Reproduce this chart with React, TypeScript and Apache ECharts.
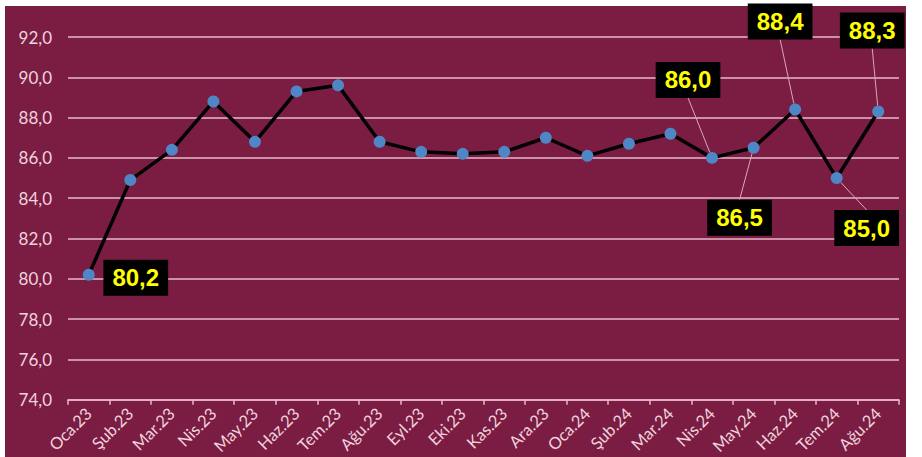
import React, { useEffect, useRef } from "react";
import * as echarts from "echarts";

const categories = [
  "Oca.23", "Şub.23", "Mar.23", "Nis.23", "May.23", "Haz.23", "Tem.23", "Ağu.23",
  "Eyl.23", "Eki.23", "Kas.23", "Ara.23", "Oca.24", "Şub.24", "Mar.24", "Nis.24",
  "May.24", "Haz.24", "Tem.24", "Ağu.24",
];
const values = [
  80.2, 84.9, 86.4, 88.8, 86.8, 89.3, 89.6, 86.8, 86.3, 86.2, 86.3, 87.0, 86.1,
  86.7, 87.2, 86.0, 86.5, 88.4, 85.0, 88.3,
];
// indices of points that carry a value callout, and the callout offsets
const labelledIdx = [0, 15, 16, 17, 18, 19];
const labelOffsets: Record<number, [number, number]> = {
  0: [47, 3],
  15: [-24, -78],
  16: [-14, 70],
  17: [-15, -88],
  18: [30, 50],
  19: [-6, -81],
};

const fmt = (v: number) => v.toFixed(1).replace(".", ",");

export default function App() {
  const ref = useRef<HTMLDivElement>(null);
  useEffect(() => {
    if (!ref.current) return;
    const chart = echarts.init(ref.current, undefined, { renderer: "svg" });
    const data = values.map((v, i) => {
      const has = labelledIdx.includes(i);
      return {
        value: v,
        label: { show: has },
        labelLine: { show: has && i !== 0 },
      };
    });
    chart.setOption({
      animation: false,
      backgroundColor: "#ffffff",
      graphic: [
        {
          type: "rect",
          shape: { x: 5, y: 6, width: 901, height: 460 },
          style: { fill: "#7B1D43" },
          z: -10,
          silent: true,
        },
      ],
      grid: { left: 68, right: 23, top: 37, bottom: 57 },
      xAxis: {
        type: "category",
        data: categories,
        boundaryGap: true,
        axisLine: { lineStyle: { color: "#E6B9C9", width: 1.5 } },
        axisTick: { show: true, length: 5, lineStyle: { color: "#E6B9C9", width: 1.5 } },
        axisLabel: {
          rotate: 45,
          color: "#F0D3DD",
          fontSize: 16.5,
          fontFamily: "Lato",
          margin: 11,
        },
      },
      yAxis: {
        type: "value",
        min: 74,
        max: 92,
        interval: 2,
        axisLine: { show: false },
        axisTick: { show: false },
        axisLabel: {
          color: "#F0D3DD",
          fontSize: 17,
          fontFamily: "Lato",
          margin: 16,
          formatter: (v: number) => fmt(v),
        },
        splitLine: { lineStyle: { color: "#E6B9C9", width: 1.5 } },
      },
      series: [
        {
          type: "line",
          data,
          symbol: "circle",
          symbolSize: 12,
          itemStyle: { color: "#4F86C6" },
          lineStyle: { color: "#000000", width: 3.5 },
          z: 3,
          label: {
            position: "inside",
            formatter: (p: any) => fmt(p.value),
            backgroundColor: "#000000",
            color: "#FFFF00",
            fontWeight: "bold",
            fontSize: 24,
            fontFamily: "Liberation Sans",
            padding: [7, 9, 5, 9],
          },
          labelLine: {
            lineStyle: { color: "#D9A7BA", width: 1 },
          },
          labelLayout: (params: any) => {
            const o = labelOffsets[params.dataIndex];
            if (!o) return {};
            return { dx: o[0], dy: o[1] };
          },
        },
      ],
    });
    return () => chart.dispose();
  }, []);
  return (
    <div
      ref={ref}
      style={{ position: "absolute", left: 0, top: 0, width: 922, height: 457 }}
    />
  );
}
